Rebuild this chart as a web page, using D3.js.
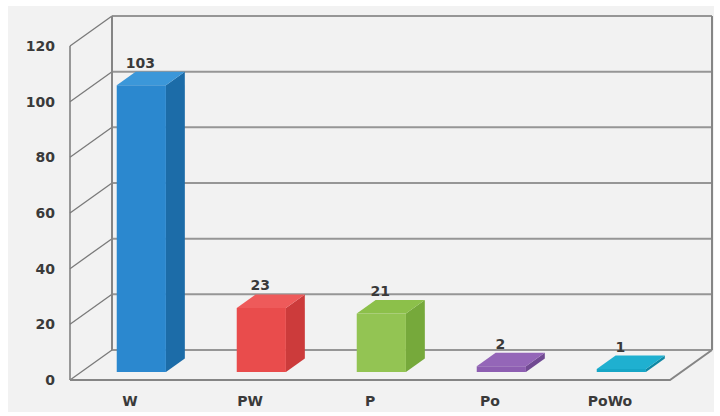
<!DOCTYPE html>
<html>
<head>
<meta charset="utf-8">
<script src="https://cdn.jsdelivr.net/npm/d3@7"></script>
<style>
html,body{margin:0;padding:0;background:#fff;}
svg{display:block;}
text{font-family:"DejaVu Sans",sans-serif;}
</style>
</head>
<body>
<svg id="chart" width="720" height="416"></svg>
<script>
const categories = ["W", "PW", "P", "Po", "PoWo"];
const values = [103, 23, 21, 2, 1];
const tickValues = [0, 20, 40, 60, 80, 100, 120];
const frontColors = ["#2b88cf", "#e94c4c", "#93c453", "#8d5eb1", "#16a6c6"];
const sideColors  = ["#1c6ca8", "#cc3b3b", "#76a93b", "#714a92", "#0f88a4"];
const topColors   = ["#3b97d9", "#ee5a5a", "#8cc04a", "#9466b8", "#1fb0d0"];

const svg = d3.select("#chart");
svg.append("rect").attr("x", 8).attr("y", 6).attr("width", 706).attr("height", 406).attr("fill", "#f2f2f2");

const floorY = 380, left = 70, right = 670;
const depthX = d3.scaleLinear().domain([0, 1]).range([0, 42]);
const depthY = d3.scaleLinear().domain([0, 1]).range([0, -30]);
const yH = d3.scaleLinear().domain([0, 120]).range([0, 334]);
const x = d3.scaleBand().domain(categories).range([left, right]).paddingInner(0.59).paddingOuter(0.295);

function P(xf, v, d) { return [xf + depthX(d), floorY - yH(v) + depthY(d)]; }
const line = d3.line();

const g = svg.append("g");
const gridColor = "#969696";
tickValues.forEach(t => {
  // back wall gridline
  g.append("path").attr("d", line([P(left, t, 1), P(right, t, 1)]))
    .attr("stroke", gridColor).attr("stroke-width", 2).attr("fill", "none");
  // left wall slant
  g.append("path").attr("d", line([P(left, t, 0), P(left, t, 1)]))
    .attr("stroke", "#7a7a7a").attr("stroke-width", 1.3).attr("fill", "none");
});
// verticals
g.append("path").attr("d", line([P(left, 0, 1), P(left, 120, 1)])).attr("stroke", "#858585").attr("stroke-width", 2).attr("fill", "none");
g.append("path").attr("d", line([P(right, 0, 1), P(right, 120, 1)])).attr("stroke", "#858585").attr("stroke-width", 2).attr("fill", "none");
g.append("path").attr("d", line([P(left, 0, 0), P(left, 120, 0)])).attr("stroke", "#7a7a7a").attr("stroke-width", 1.5).attr("fill", "none");
// floor front & right slant
g.append("path").attr("d", line([P(left, 0, 0), P(right, 0, 0), P(right, 0, 1)])).attr("stroke", "#858585").attr("stroke-width", 2).attr("fill", "none");

// bars
const d1 = 0.27, d2 = 0.72;
const bw = x.bandwidth();
const bars = svg.append("g");
const poly = pts => "M" + pts.map(p => p.join(",")).join("L") + "Z";
categories.forEach((c, i) => {
  const v = values[i];
  const x0 = x(c), x1 = x0 + bw;
  bars.append("path").attr("d", poly([P(x1, 0, d1), P(x1, 0, d2), P(x1, v, d2), P(x1, v, d1)])).attr("fill", sideColors[i]);
  bars.append("path").attr("d", poly([P(x0, v, d1), P(x1, v, d1), P(x1, v, d2), P(x0, v, d2)])).attr("fill", topColors[i]);
  bars.append("path").attr("d", poly([P(x0, 0, d1), P(x1, 0, d1), P(x1, v, d1), P(x0, v, d1)])).attr("fill", frontColors[i]);
  const lp = P(x0 + bw / 2, v, d2);
  bars.append("text").attr("x", P(x0 + bw / 2, v, d1)[0] - 1).attr("y", lp[1] - 4)
    .attr("text-anchor", "middle").attr("font-size", 14).attr("font-weight", "bold").attr("fill", "#3a3a3a").text(v);
});

// y axis labels
const yAxisScale = d3.scaleLinear().domain([0, 120]).range([floorY, floorY - yH(120)]);
const yAxis = svg.append("g").attr("transform", `translate(${left - 15},0)`)
  .call(d3.axisLeft(yAxisScale).tickValues(tickValues).tickSize(0).tickPadding(0));
yAxis.select(".domain").remove();
yAxis.selectAll("text").attr("font-size", 14).attr("font-weight", "bold").attr("fill", "#3a3a3a").attr("font-family", "DejaVu Sans, sans-serif");

// x axis labels
const xAxis = svg.append("g").attr("transform", `translate(0,${floorY + 16})`)
  .call(d3.axisBottom(d3.scaleBand().domain(categories).range([left, right])).tickSize(0).tickPadding(0));
xAxis.select(".domain").remove();
xAxis.selectAll("text").attr("font-size", 14).attr("font-weight", "bold").attr("fill", "#3a3a3a").attr("font-family", "DejaVu Sans, sans-serif");
</script>
</body>
</html>
